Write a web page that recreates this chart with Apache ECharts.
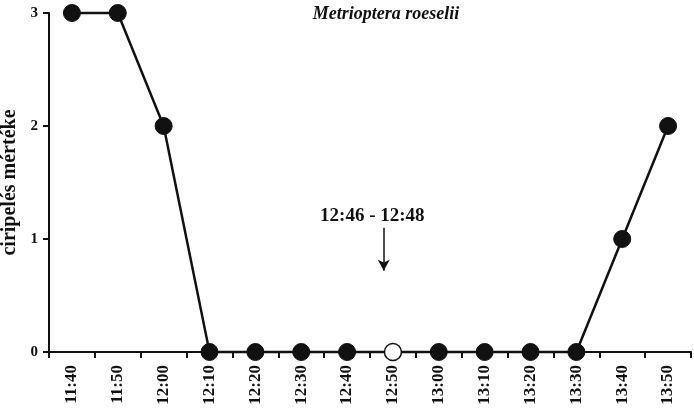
<!DOCTYPE html>
<html><head><meta charset="utf-8">
<script src="https://cdn.jsdelivr.net/npm/echarts@6/dist/echarts.min.js"></script>
<style>html,body{margin:0;padding:0;background:#fff}#c{width:694px;height:410px}</style>
</head><body><div id="c"></div>
<script>
const categories = ['11:40','11:50','12:00','12:10','12:20','12:30','12:40','12:50','13:00','13:10','13:20','13:30','13:40','13:50'];
const values = [3,3,2,0,0,0,0,0,0,0,0,0,1,2];
const openIndex = 7; // 12:50 drawn as open circle
const yTicks = [0,1,2,3];
const noteText = '12:46 - 12:48';
const noteArrowMinute = 68;   // minutes after 11:40
const noteTextMinute = 65.5;
const noteTextY = 1.2;
const noteTop = 1.1, noteBottom = 0.72;

const F = '"Liberation Serif", "Times New Roman", serif';
const chart = echarts.init(document.getElementById('c'));
chart.setOption({
  animation: false,
  backgroundColor: '#fff',
  title: {
    text: 'Metrioptera roeselii', left: 381, top: 0, textAlign: 'center',
    textStyle: {fontFamily: F, fontStyle: 'italic', fontWeight: 'bold', fontSize: 18, color: '#111'}
  },
  grid: {left: 49, right: 3, top: 13, bottom: 58, containLabel: false, outerBoundsMode: 'none'},
  xAxis: [{
    type: 'category', data: categories, boundaryGap: true,
    axisLine: {onZero: false, lineStyle: {color: '#111', width: 2}},
    axisTick: {show: true, inside: false, length: 6, lineStyle: {color: '#111', width: 2}, alignWithLabel: false},
    axisLabel: {rotate: 90, margin: 13, fontFamily: F, fontWeight: 'bold', fontSize: 17, color: '#111'},
    splitLine: {show: false}
  }, {
    type: 'value', min: -5, max: 135, show: false
  }],
  yAxis: {
    type: 'value', min: 0, max: 3, interval: 1,
    name: 'ciripelés mértéke', nameLocation: 'middle', nameGap: 23, nameRotate: 90,
    nameTextStyle: {fontFamily: F, fontWeight: 'bold', fontSize: 20, color: '#111'},
    axisLine: {show: true, onZero: false, lineStyle: {color: '#111', width: 2}},
    axisTick: {show: true, inside: false, length: 6, lineStyle: {color: '#111', width: 2}},
    axisLabel: {margin: 11, fontFamily: F, fontWeight: 'bold', fontSize: 15, color: '#111',
      formatter: v => yTicks.includes(v) ? String(v) : ''},
    splitLine: {show: false}
  },
  series: [{
    type: 'line', xAxisIndex: 0, clip: false,
    data: values.map((v, i) => i === openIndex
      ? {value: v, itemStyle: {color: '#fff', borderColor: '#111', borderWidth: 1.5}}
      : v),
    symbol: 'circle', symbolSize: 17,
    lineStyle: {color: '#111', width: 2.5},
    itemStyle: {color: '#111', borderColor: '#111', borderWidth: 1},
    z: 3
  }, {
    type: 'scatter', xAxisIndex: 1, symbolSize: 0, silent: true,
    itemStyle: {opacity: 1, color: '#111'},
    data: [[noteTextMinute, noteTextY]],
    label: {show: true, position: 'inside', formatter: noteText,
      fontFamily: F, fontWeight: 'bold', fontSize: 19, color: '#111', opacity: 1},
    markLine: {
      silent: true, symbol: ['none', 'arrow'], symbolSize: [9, 11],
      lineStyle: {color: '#111', width: 1.5, type: 'solid'},
      label: {show: false},
      data: [[{coord: [noteArrowMinute, noteTop]}, {coord: [noteArrowMinute, noteBottom]}]]
    }
  }]
});
</script></body></html>
